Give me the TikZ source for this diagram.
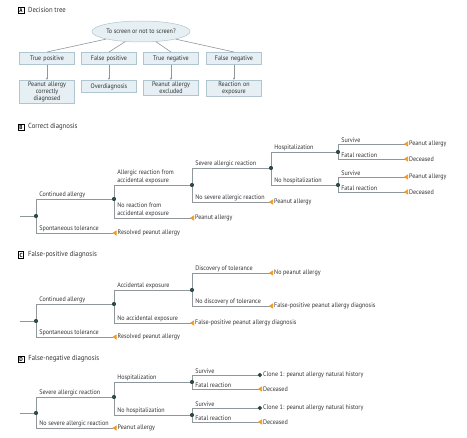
\documentclass[tikz,border=0pt]{standalone}
\usepackage{fontspec}
\setmainfont[FakeStretch=0.92]{PT Sans}
\usetikzlibrary{shapes,arrows.meta,positioning,calc}
\definecolor{linegray}{HTML}{8F979B}
\definecolor{dotgreen}{HTML}{2E4B47}
\definecolor{tiporange}{HTML}{F29A1F}
\definecolor{boxfill}{HTML}{E6EFF3}
\definecolor{boxline}{HTML}{AFC6D0}
\definecolor{textgray}{HTML}{333333}
\begin{document}
\begin{tikzpicture}[x=1pt,y=-1pt,
    every node/.style={font=\fontsize{6.6}{7.4}\selectfont, text=textgray},
    edge/.style={draw=linegray, line width=0.6pt},
    dot/.style={circle, fill=dotgreen, inner sep=0pt, minimum size=4.2pt},
    leaf/.style={anchor=west, inner sep=1pt},
    tol/.style={edge, -{Triangle[reversed, length=4pt, width=5pt, color=tiporange, fill=tiporange]}},
    clone/.style={edge, -{Circle[length=4.2pt, color=dotgreen, fill=dotgreen]}},
    lab/.style={pos=0.5, anchor=south west, align=left, inner sep=1pt, xshift=2pt,
        font=\fontsize{6.6}{8}\selectfont},
    panel/.style={draw=black, line width=0.4pt, inner sep=1.2pt, text=black,
        font=\fontsize{5.8}{7}\selectfont\bfseries},
    ptitle/.style={inner sep=0pt, anchor=west, font=\fontsize{7.3}{8}\selectfont},
    choice/.style={rectangle, draw=boxline, fill=boxfill, line width=0.5pt, align=center,
        minimum width=55pt, text width=51pt, minimum height=12.5pt, inner sep=1.5pt},
    result/.style={choice, anchor=north, font=\fontsize{6.6}{7.2}\selectfont},
    small/.style={edge, -{Stealth[length=2.5pt, width=2.2pt, color=linegray]}}
  ]
  \useasboundingbox (0,0) rectangle (467,438);

  % A
  \node[panel] (pa) at (21,10) {A};
  \node[ptitle] (ta) at ($(pa.east)+(4,0)$) {Decision tree};
  \node[ellipse, draw=boxline, fill=boxfill, line width=0.5pt, minimum width=90pt,
        minimum height=21pt, inner sep=0pt] (q) at (141,31.5) {To screen or not to screen?};
  \node[choice] (tp) at (47,58.5) {True positive};
  \node[choice] (fp) at (109,58.5) {False positive};
  \node[choice] (tn) at (171,58.5) {True negative};
  \node[choice] (fn) at (234,58.5) {False negative};
  \node[result] (tpo) at (47,80) {Peanut allergy\\correctly\\diagnosed};
  \node[result] (fpo) at (109,80) {Overdiagnosis};
  \node[result] (tno) at (171,80) {Peanut allergy\\excluded};
  \node[result] (fno) at (234,80) {Reaction on\\exposure};
  \foreach \b in {tp,fp,tn,fn} {
    \draw[edge] (q) -- (\b.north);
    \draw[small] (\b) -- (\b o);
  }

  % B
  \node[panel] (pb) at (21,127) {B};
  \node[ptitle] (tb) at ($(pb.east)+(4,0)$) {Correct diagnosis};
  \coordinate (b) at (20,216);
  \node[dot] (b0) at (36,216) {};
  \node[dot] (b1) at (114,199) {};
  \node[leaf] (b2) at (116.5,233) {Resolved peanut allergy};
  \node[dot] (b3) at (192,185) {};
  \node[leaf] (b4) at (194,218) {Peanut allergy};
  \node[dot] (b5) at (271,168) {};
  \node[leaf] (b6) at (273,202) {Peanut allergy};
  \node[dot] (b7) at (338,152) {};
  \node[dot] (b8) at (338,185) {};
  \node[leaf] (b9) at (408,144) {Peanut allergy};
  \node[leaf] (b10) at (408,159) {Deceased};
  \node[leaf] (b11) at (408,177) {Peanut allergy};
  \node[leaf] (b12) at (408,192) {Deceased};
  \draw[edge] (b) -- (b0);
  \draw[edge] (b0) |- (b1) node[lab] {Continued allergy};
  \draw[tol] (b0) |- (b2) node[lab] {Spontaneous tolerance};
  \draw[edge] (b1) |- (b3) node[lab] {Allergic reaction from\\accidental exposure};
  \draw[tol] (b1) |- (b4) node[lab] {No reaction from\\accidental exposure};
  \draw[edge] (b3) |- (b5) node[lab] {Severe allergic reaction};
  \draw[tol] (b3) |- (b6) node[lab] {No severe allergic reaction};
  \draw[edge] (b5) |- (b7) node[lab] {Hospitalization};
  \draw[edge] (b5) |- (b8) node[lab] {No hospitalization};
  \draw[tol] (b7) |- (b9) node[lab] {Survive};
  \draw[tol] (b7) |- (b10) node[lab] {Fatal reaction};
  \draw[tol] (b8) |- (b11) node[lab] {Survive};
  \draw[tol] (b8) |- (b12) node[lab] {Fatal reaction};

  % C
  \node[panel] (pc) at (21,255) {C};
  \node[ptitle] (tc) at ($(pc.east)+(4,0)$) {False-positive diagnosis};
  \coordinate (c) at (20,321);
  \node[dot] (c0) at (36,321) {};
  \node[dot] (c1) at (114,304) {};
  \node[leaf] (c2) at (116.5,337) {Resolved peanut allergy};
  \node[dot] (c3) at (192,290) {};
  \node[leaf] (c4) at (194,323) {False-positive peanut allergy diagnosis};
  \node[leaf] (c5) at (273,273) {No peanut allergy};
  \node[leaf] (c6) at (273,306) {False-positive peanut allergy diagnosis};
  \draw[edge] (c) -- (c0);
  \draw[edge] (c0) |- (c1) node[lab] {Continued allergy};
  \draw[tol] (c0) |- (c2) node[lab] {Spontaneous tolerance};
  \draw[edge] (c1) |- (c3) node[lab] {Accidental exposure};
  \draw[tol] (c1) |- (c4) node[lab] {No accidental exposure};
  \draw[tol] (c3) |- (c5) node[lab] {Discovery of tolerance};
  \draw[tol] (c3) |- (c6) node[lab] {No discovery of tolerance};

  % D
  \node[panel] (pd) at (21,359) {D};
  \node[ptitle] (td) at ($(pd.east)+(4,0)$) {False-negative diagnosis};
  \coordinate (d) at (20,413);
  \node[dot] (d0) at (36,413) {};
  \node[dot] (d1) at (114,397) {};
  \node[leaf] (d2) at (116.5,428) {Peanut allergy};
  \node[dot] (d3) at (192,382) {};
  \node[dot] (d4) at (192,415) {};
  \node[leaf] (d5) at (262,375) {Clone 1: peanut allergy natural history};
  \node[leaf] (d6) at (262,389) {Deceased};
  \node[leaf] (d7) at (262,408) {Clone 1: peanut allergy natural history};
  \node[leaf] (d8) at (262,422) {Deceased};
  \draw[edge] (d) -- (d0);
  \draw[edge] (d0) |- (d1) node[lab] {Severe allergic reaction};
  \draw[tol] (d0) |- (d2) node[lab] {No severe allergic reaction};
  \draw[edge] (d1) |- (d3) node[lab] {Hospitalization};
  \draw[edge] (d1) |- (d4) node[lab] {No hospitalization};
  \draw[clone] (d3) |- (d5) node[lab] {Survive};
  \draw[tol] (d3) |- (d6) node[lab] {Fatal reaction};
  \draw[clone] (d4) |- (d7) node[lab] {Survive};
  \draw[tol] (d4) |- (d8) node[lab] {Fatal reaction};
\end{tikzpicture}
\end{document}
